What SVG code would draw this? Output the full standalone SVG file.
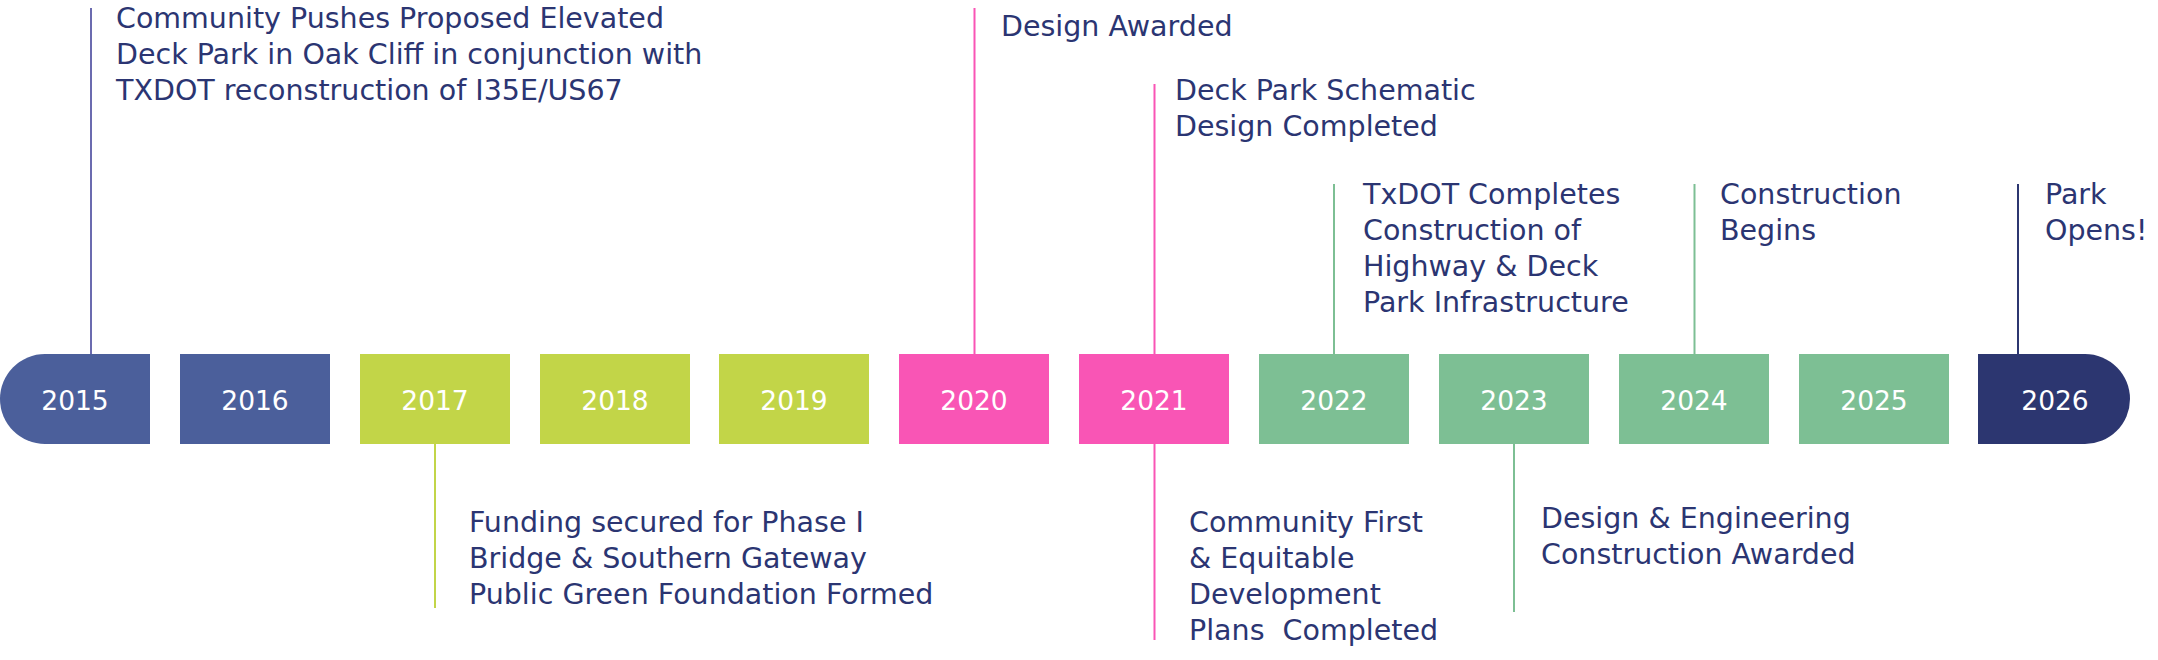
<svg xmlns="http://www.w3.org/2000/svg" width="2158" height="660" viewBox="0 0 2158 660">
<style>
.yr{font-family:"DejaVu Sans","Liberation Sans",sans-serif;font-size:26.5px;fill:#ffffff;text-anchor:middle}
.lbl{font-family:"DejaVu Sans","Liberation Sans",sans-serif;font-size:28.5px;fill:#2b3572}
.c{fill:none;stroke-width:2}
.blue{fill:#4b5f9b}.lime{fill:#c2d548}.pink{fill:#f955b5}.green{fill:#7dbf94}.navy{fill:#2c3670}
</style>
<rect width="2158" height="660" fill="#ffffff"/>
<g id="connectors">
<line class="c" x1="91" y1="8" x2="91" y2="355" stroke="#6b6baf"/>
<line class="c" x1="435" y1="443" x2="435" y2="608" stroke="#c2d548"/>
<line class="c" x1="974.5" y1="8" x2="974.5" y2="355" stroke="#f955b5"/>
<line class="c" x1="1154.5" y1="84" x2="1154.5" y2="355" stroke="#f955b5"/>
<line class="c" x1="1154.5" y1="443" x2="1154.5" y2="640" stroke="#f955b5"/>
<line class="c" x1="1334" y1="184" x2="1334" y2="355" stroke="#7dbf94"/>
<line class="c" x1="1514" y1="443" x2="1514" y2="612" stroke="#7dbf94"/>
<line class="c" x1="1694.5" y1="184" x2="1694.5" y2="355" stroke="#7dbf94"/>
<line class="c" x1="2018" y1="184" x2="2018" y2="355" stroke="#2c3670"/>
</g>
<g id="y2015"><path class="blue" d="M150,354 H45 A45,45 0 0 0 45,444 H150 Z"/><text class="yr" x="75" y="410">2015</text></g>
<g id="y2016"><rect class="blue" x="180" y="354" width="150" height="90"/><text class="yr" x="255" y="410">2016</text></g>
<g id="y2017"><rect class="lime" x="360" y="354" width="150" height="90"/><text class="yr" x="435" y="410">2017</text></g>
<g id="y2018"><rect class="lime" x="540" y="354" width="150" height="90"/><text class="yr" x="615" y="410">2018</text></g>
<g id="y2019"><rect class="lime" x="719" y="354" width="150" height="90"/><text class="yr" x="794" y="410">2019</text></g>
<g id="y2020"><rect class="pink" x="899" y="354" width="150" height="90"/><text class="yr" x="974" y="410">2020</text></g>
<g id="y2021"><rect class="pink" x="1079" y="354" width="150" height="90"/><text class="yr" x="1154" y="410">2021</text></g>
<g id="y2022"><rect class="green" x="1259" y="354" width="150" height="90"/><text class="yr" x="1334" y="410">2022</text></g>
<g id="y2023"><rect class="green" x="1439" y="354" width="150" height="90"/><text class="yr" x="1514" y="410">2023</text></g>
<g id="y2024"><rect class="green" x="1619" y="354" width="150" height="90"/><text class="yr" x="1694" y="410">2024</text></g>
<g id="y2025"><rect class="green" x="1799" y="354" width="150" height="90"/><text class="yr" x="1874" y="410">2025</text></g>
<g id="y2026"><path class="navy" d="M1978,354 H2085 A45,45 0 0 1 2085,444 H1978 Z"/><text class="yr" x="2055" y="410">2026</text></g>
<g id="label2015"><text class="lbl" x="116"><tspan x="116" y="28">Community Pushes Proposed Elevated</tspan><tspan x="116" y="64">Deck Park in Oak Cliff in conjunction with</tspan><tspan x="116" y="100">TXDOT reconstruction of I35E/US67</tspan></text></g>
<g id="label2017"><text class="lbl"><tspan x="469" y="532">Funding secured for Phase I</tspan><tspan x="469" y="568">Bridge &amp; Southern Gateway</tspan><tspan x="469" y="604">Public Green Foundation Formed</tspan></text></g>
<g id="label2020"><text class="lbl" x="1001" y="36">Design Awarded</text></g>
<g id="label2021a"><text class="lbl"><tspan x="1175" y="100">Deck Park Schematic</tspan><tspan x="1175" y="136">Design Completed</tspan></text></g>
<g id="label2021b"><text class="lbl" xml:space="preserve"><tspan x="1189" y="532">Community First</tspan><tspan x="1189" y="568">&amp; Equitable</tspan><tspan x="1189" y="604">Development</tspan><tspan x="1189" y="640">Plans  Completed</tspan></text></g>
<g id="label2022"><text class="lbl"><tspan x="1363" y="204">TxDOT Completes</tspan><tspan x="1363" y="240">Construction of</tspan><tspan x="1363" y="276">Highway &amp; Deck</tspan><tspan x="1363" y="312">Park Infrastructure</tspan></text></g>
<g id="label2023"><text class="lbl"><tspan x="1541" y="528">Design &amp; Engineering</tspan><tspan x="1541" y="564">Construction Awarded</tspan></text></g>
<g id="label2024"><text class="lbl"><tspan x="1720" y="204">Construction</tspan><tspan x="1720" y="240">Begins</tspan></text></g>
<g id="label2026"><text class="lbl"><tspan x="2045" y="204">Park</tspan><tspan x="2045" y="240">Opens!</tspan></text></g>
</svg>
